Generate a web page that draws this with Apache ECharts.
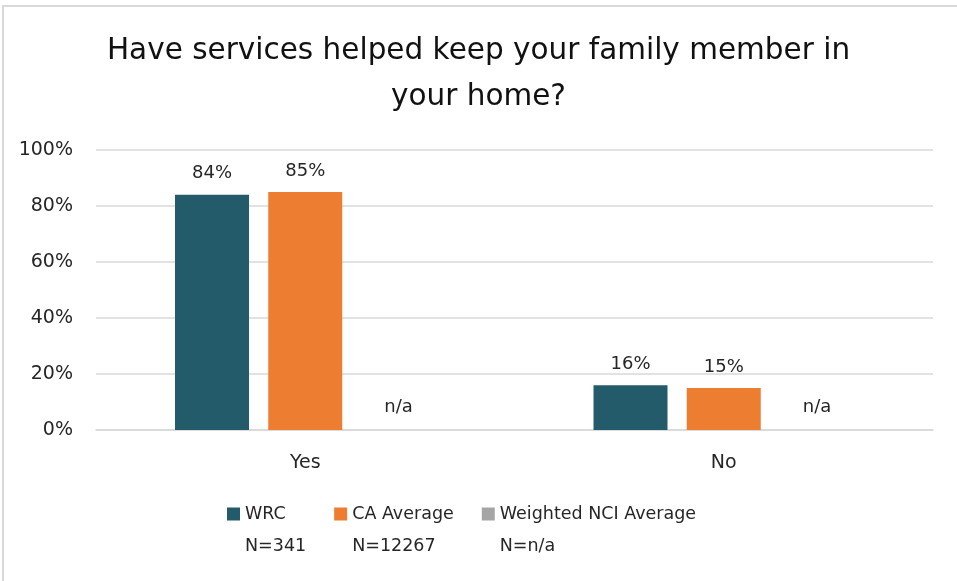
<!DOCTYPE html>
<html>
<head>
<meta charset="utf-8">
<script src="https://cdn.jsdelivr.net/npm/echarts@6/dist/echarts.min.js"></script>
<style>
  html, body { margin: 0; padding: 0; background: #fff; overflow: hidden; }
  #frame { position: absolute; left: 2px; top: 5px; right: 0; bottom: 0;
           border-left: 2px solid #d9d9d9; border-top: 2px solid #d9d9d9; }
  #chart { position: absolute; left: 0; top: 0; width: 957px; height: 581px; }
</style>
</head>
<body>
<div id="frame"></div>
<div id="chart"></div>
<script>
// categories and values (percent)
const categories = ['Yes', 'No'];
const seriesNames = ['WRC', 'CA Average', 'Weighted NCI Average'];
const sampleSizes = ['341', '12267', 'n/a'];
const wrcValues = [84, 16];
const caValues = [85, 15];
const nciValues = ['n/a', 'n/a'];
const yTicks = [0, 20, 40, 60, 80, 100];

const colors = ['#245b6b', '#ed7d31', '#a5a5a5'];
const font = '"DejaVu Sans", sans-serif';

const chart = echarts.init(document.getElementById('chart'));

function barSeries(name, values, idx) {
  return {
    name: name,
    type: 'bar',
    barWidth: 74,
    barGap: '26%',
    data: values.map(v => (typeof v === 'number' ? v : 0)),
    label: {
      show: true,
      position: 'top',
      distance: typeof values[0] === 'number' ? 12 : 14,
      fontFamily: font,
      fontSize: 18,
      color: '#262626',
      formatter: p => (typeof values[p.dataIndex] === 'number' ? values[p.dataIndex] + '%' : values[p.dataIndex])
    },
    itemStyle: { color: colors[idx] }
  };
}

// legend icon: square at top, taller invisible box so it lines up with the first text line
const legendIcon = 'path://M0,0H13V13H0Z M0,45H0.1V44.9Z';

const option = {
  color: colors,
  animation: false,
  title: {
    text: 'Have services helped keep your family member in\nyour home?',
    left: 'center',
    top: 23,
    textStyle: {
      fontFamily: font,
      fontSize: 29.5,
      fontWeight: 'normal',
      color: '#111',
      lineHeight: 46
    }
  },
  legend: {
    left: 227,
    top: 498,
    padding: 0,
    itemWidth: 13,
    itemHeight: 45,
    itemGap: 28,
    icon: legendIcon,
    data: seriesNames,
    formatter: name => name + '\nN=' + sampleSizes[seriesNames.indexOf(name)],
    textStyle: {
      fontFamily: font,
      fontSize: 17.5,
      color: '#262626',
      lineHeight: 32
    }
  },
  grid: {
    left: 96,
    right: 24,
    top: 150,
    bottom: 151,
    containLabel: false
  },
  xAxis: {
    type: 'category',
    data: categories,
    axisLine: { lineStyle: { color: '#d9d9d9', width: 1.5 } },
    axisTick: { show: false },
    axisLabel: {
      margin: 24,
      fontFamily: font,
      fontSize: 19,
      color: '#262626'
    }
  },
  yAxis: {
    type: 'value',
    min: yTicks[0],
    max: yTicks[yTicks.length - 1],
    interval: 20,
    axisLine: { show: false },
    axisTick: { show: false },
    splitLine: { lineStyle: { color: '#d9d9d9', width: 1.5 } },
    axisLabel: {
      margin: 23,
      fontFamily: font,
      fontSize: 19,
      color: '#262626',
      formatter: '{value}%'
    }
  },
  series: [
    barSeries(seriesNames[0], wrcValues, 0),
    barSeries(seriesNames[1], caValues, 1),
    barSeries(seriesNames[2], nciValues, 2)
  ]
};

chart.setOption(option);
</script>
</body>
</html>
